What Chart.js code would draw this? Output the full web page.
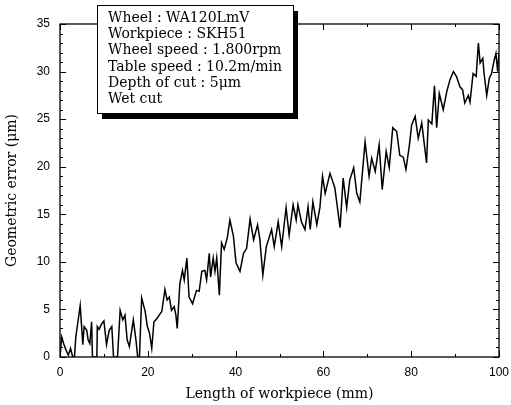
<!DOCTYPE html>
<html>
<head>
<meta charset="utf-8">
<script src="https://cdn.jsdelivr.net/npm/chart.js@4"></script>
<style>
  html, body { margin: 0; padding: 0; background: #fff; }
  #wrap { width: 511px; height: 405px; }
</style>
</head>
<body>
<div id="wrap"><canvas id="errChart" width="511" height="405"></canvas></div>
<script>
// data (mm, µm)
const lengthMm = [0,0.4,0.9,1.4,1.9,2.4,2.9,3.3,3.6,4.6,5.2,5.5,6.1,6.4,6.8,7.2,7.4,8.0,8.4,8.5,8.9,9.5,10.0,10.6,11.2,11.8,12.2,13.1,13.7,14.3,14.8,15.3,15.8,16.7,17.3,17.7,18.1,18.6,19.4,19.9,20.4,20.9,21.4,22.0,23.2,23.9,24.4,24.9,25.4,26.0,26.4,26.7,27.3,27.9,28.3,28.9,29.4,30.2,31.1,31.7,32.3,33.0,33.4,34.0,34.3,34.9,35.3,35.7,36.3,36.8,37.4,38.1,38.7,39.5,40.1,41.0,41.8,42.5,43.3,44.1,45.0,45.5,46.2,47.0,48.2,48.8,49.7,50.5,51.5,52.2,53.1,53.8,54.2,55.0,55.8,56.5,57.0,57.6,58.5,59.2,59.8,60.4,61.5,62.6,63.8,64.5,65.3,66.0,66.9,67.6,68.3,69.5,70.4,71.0,71.8,72.7,73.4,74.3,75.0,75.8,76.7,77.4,78.2,78.8,79.6,80.1,80.9,81.6,82.4,83.5,83.9,84.7,85.3,85.8,86.4,87.3,88.1,88.8,89.6,90.3,91.1,91.7,92.2,93.0,93.4,94.1,94.8,95.3,95.7,96.3,96.6,97.2,97.8,98.3,98.9,99.3,99.7,100];
const errorUm = [0,2.1,1.3,0.7,0.2,0.9,0,0,2.1,5.4,1.3,3.2,2.8,1.8,1.4,3.7,0,0,0,3.2,2.9,3.5,3.8,1.3,2.8,3.2,0,0,4.9,3.9,4.4,1.8,1.1,3.9,1.8,0,0,6.2,4.8,3.2,2.5,0.9,3.7,4.0,4.8,7.1,6.0,6.3,4.9,5.3,4.4,3.0,7.7,9.1,8.1,10.4,6.3,5.6,7.0,6.9,9.0,9.1,8.1,10.9,8.4,10.4,9.0,10.4,6.5,12.0,11.3,12.5,14.4,12.7,9.9,9.0,10.9,11.4,14.5,12.3,13.9,12.5,8.6,11.6,13.4,11.6,14.2,11.6,15.7,12.8,16.0,14.4,16.0,14.2,13.4,15.8,13.4,16.3,13.9,15.7,19.0,17.2,19.3,17.8,13.6,18.8,15.7,18.6,19.9,17.2,16.3,22.6,19.0,20.9,19.5,22.3,17.6,21.6,19.9,24.1,23.7,21.2,21.0,19.7,22.3,24.4,25.3,23.0,24.6,20.4,24.9,24.5,28.5,24.1,27.7,26.0,27.9,29.1,30.0,29.5,28.4,28.1,26.7,27.5,26.8,29.8,29.5,33.0,30.9,31.4,29.8,27.5,29.3,29.8,31.2,31.9,30.0,32.0];

const xTicks = [0, 20, 40, 60, 80, 100];
const yTicks = [0, 5, 10, 15, 20, 25, 30, 35];
const legendLines = [
  'Wheel : WA120LmV',
  'Workpiece : SKH51',
  'Wheel speed : 1.800rpm',
  'Table speed : 10.2m/min',
  'Depth of cut : 5\u03bcm',
  'Wet cut'
];

const serif = '"DejaVu Serif", "Liberation Serif", serif';
const sans = '"Liberation Sans", Arial, sans-serif';

// frame, inward ticks on all four sides, and the condition box
const framePlugin = {
  id: 'frame',
  afterDraw(chart) {
    const ctx = chart.ctx;
    const a = chart.chartArea;
    const xs = chart.scales.x, ys = chart.scales.y;
    ctx.save();
    ctx.strokeStyle = '#000';
    ctx.lineWidth = 1.3;
    ctx.strokeRect(a.left, a.top, a.right - a.left, a.bottom - a.top);

    ctx.lineWidth = 1;
    ctx.beginPath();
    for (let v = yTicks[0]; v <= yTicks[yTicks.length - 1]; v++) {
      const y = Math.round(ys.getPixelForValue(v)) + 0.5;
      const len = v % 5 === 0 ? 6 : 3;
      ctx.moveTo(a.left, y); ctx.lineTo(a.left + len, y);
      ctx.moveTo(a.right, y); ctx.lineTo(a.right - len, y);
    }
    for (let v = xTicks[0]; v <= xTicks[xTicks.length - 1]; v += 10) {
      const x = Math.round(xs.getPixelForValue(v)) + 0.5;
      const len = v % 20 === 0 ? 6 : 3;
      ctx.moveTo(x, a.bottom); ctx.lineTo(x, a.bottom - len);
      ctx.moveTo(x, a.top); ctx.lineTo(x, a.top + len);
    }
    ctx.stroke();

    // box with drop shadow
    const bx = 97, by = 5, bw = 196, bh = 108;
    ctx.fillStyle = '#000';
    ctx.fillRect(bx + 5, by + 6, bw, bh);
    ctx.fillStyle = '#fff';
    ctx.fillRect(bx, by, bw, bh);
    ctx.strokeRect(bx + 0.5, by + 0.5, bw, bh);
    ctx.fillStyle = '#000';
    ctx.font = '14px ' + serif;
    ctx.textBaseline = 'middle';
    ctx.textAlign = 'left';
    legendLines.forEach((t, i) => ctx.fillText(t, 108, 18 + i * 16.3));
    ctx.restore();
  }
};

const ctx = document.getElementById('errChart').getContext('2d');
const chart = new Chart(ctx, {
  type: 'line',
  data: {
    datasets: [{
      data: lengthMm.map((x, i) => ({ x, y: errorUm[i] })),
      borderColor: '#000',
      borderWidth: 1.5,
      pointRadius: 0,
      tension: 0,
      fill: false
    }]
  },
  options: {
    responsive: false,
    animation: false,
    devicePixelRatio: 1,
    layout: { padding: { top: 24, right: 0, left: 0, bottom: 0 } },
    plugins: { legend: { display: false }, tooltip: { enabled: false } },
    scales: {
      x: {
        type: 'linear',
        min: 0, max: 100,
        afterBuildTicks: s => { s.ticks = xTicks.map(v => ({ value: v })); },
        afterFit: s => { s.height = 48; s.paddingRight = 12; },
        grid: { display: false, drawTicks: false },
        border: { display: false },
        ticks: { color: '#000', font: { family: sans, size: 12 }, padding: 8, maxRotation: 0 },
        title: {
          display: true,
          text: 'Length of workpiece (mm)',
          color: '#000',
          font: { family: serif, size: 14 },
          padding: { top: 0, bottom: 2 }
        }
      },
      y: {
        min: 0, max: 35,
        afterBuildTicks: s => { s.ticks = yTicks.map(v => ({ value: v })); },
        afterFit: s => { s.width = 60; },
        grid: { display: false, drawTicks: false },
        border: { display: false },
        ticks: { color: '#000', font: { family: sans, size: 12 }, padding: 10 },
        title: {
          display: true,
          text: 'Geometric error (\u03bcm)',
          color: '#000',
          font: { family: serif, size: 14 },
          padding: { top: 4, bottom: 0 }
        }
      }
    }
  },
  plugins: [framePlugin]
});
</script>
</body>
</html>
